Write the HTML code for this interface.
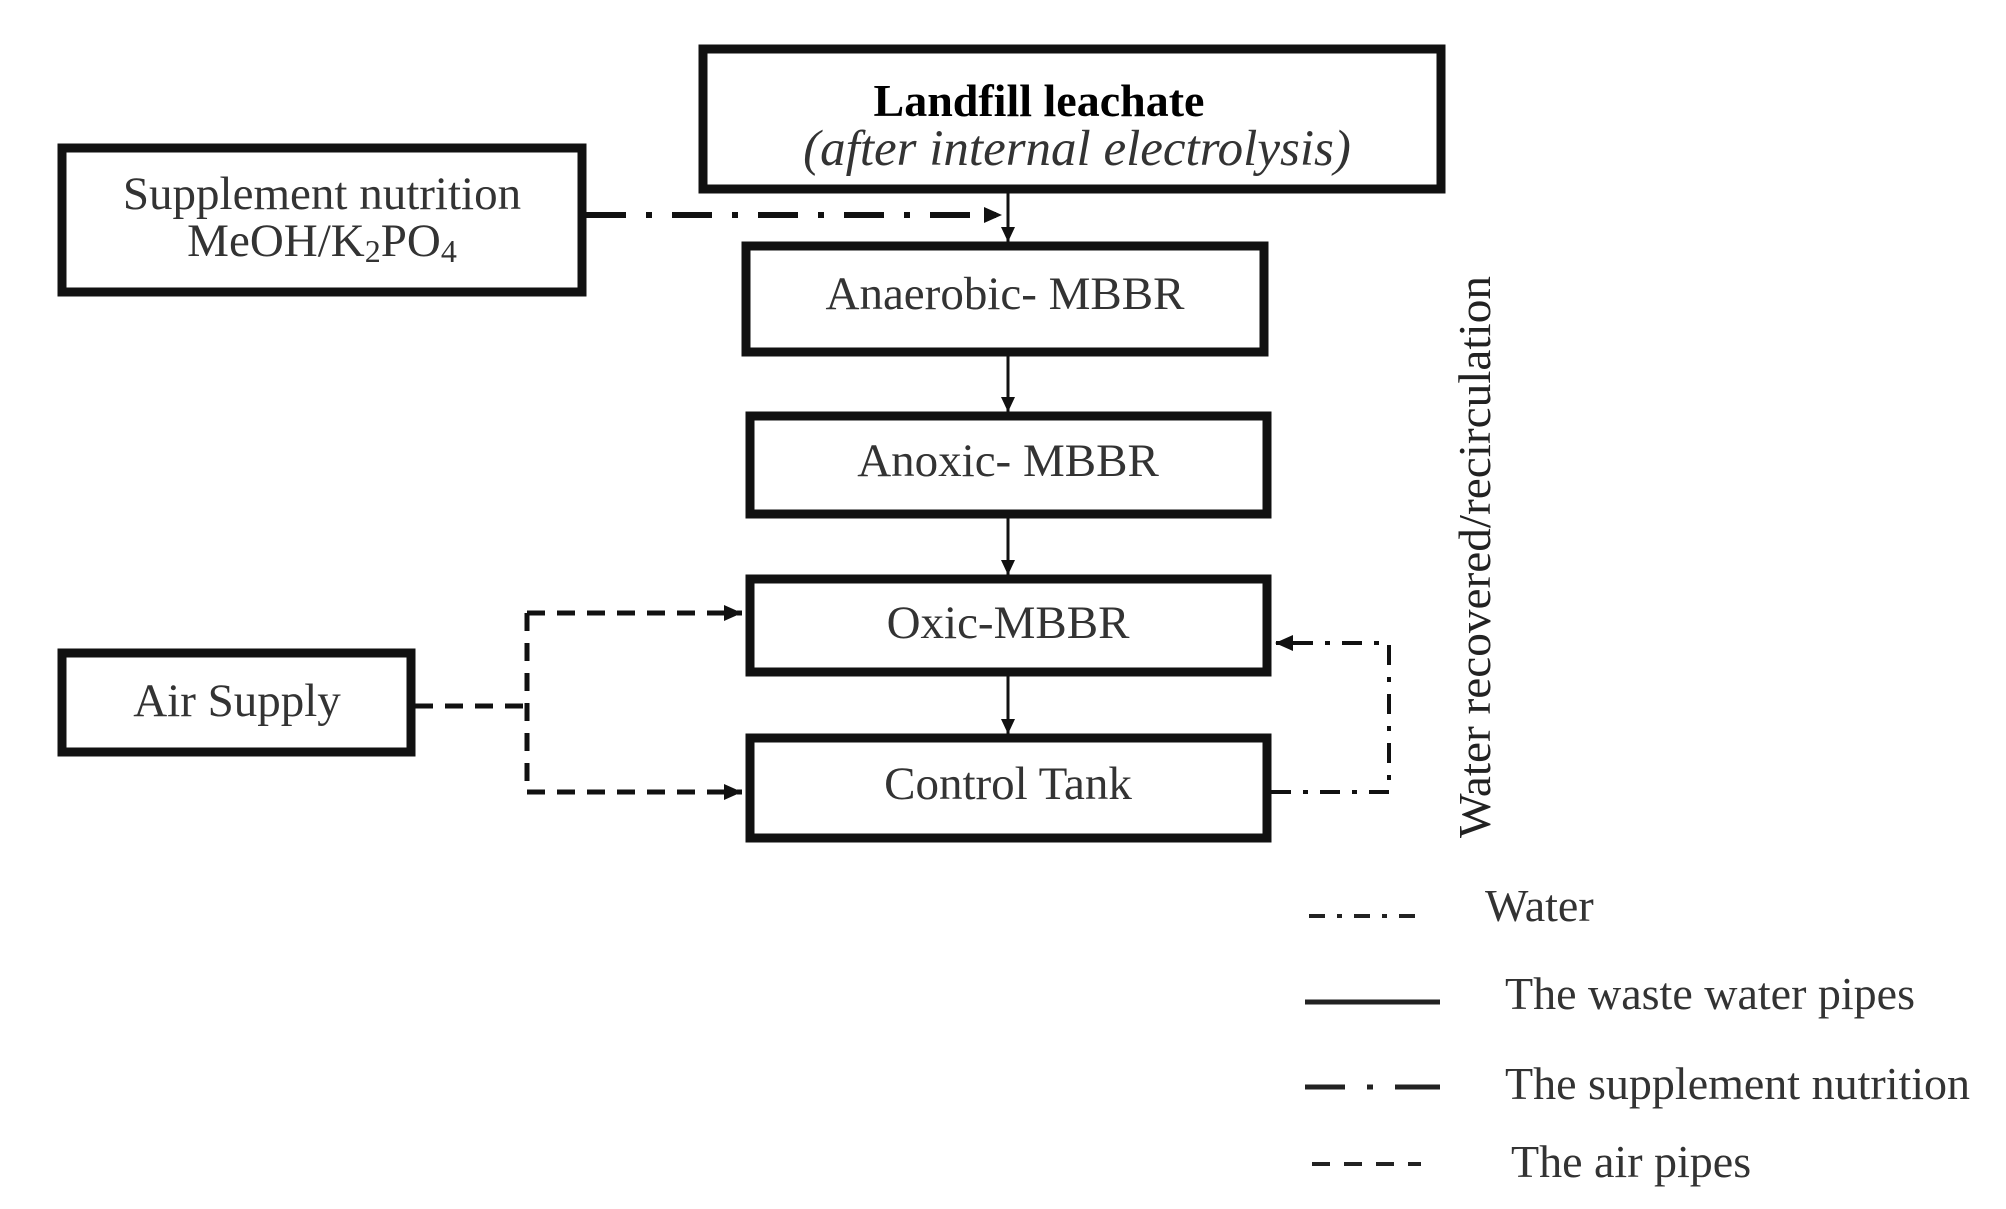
<!DOCTYPE html>
<html><head><meta charset="utf-8"><style>
html,body{margin:0;padding:0;background:#fff;}
svg{display:block;}
text{font-family:"Liberation Serif",serif;}
</style></head><body>
<svg width="2006" height="1209" viewBox="0 0 2006 1209" xmlns="http://www.w3.org/2000/svg">
<defs>
<marker id="ah" markerWidth="16" markerHeight="16" refX="15" refY="8" orient="auto" markerUnits="userSpaceOnUse">
<path d="M0,1 L15,8 L0,15 z" fill="#111"/></marker>
<marker id="ahb" markerWidth="20" markerHeight="20" refX="18" refY="10" orient="auto" markerUnits="userSpaceOnUse">
<path d="M0,2 L18,10 L0,18 z" fill="#111"/></marker>
</defs>
<g fill="#fff" stroke="#111" stroke-width="9">
<rect x="709" y="49" width="738" height="140" transform="translate(-6,0)"/>
<rect x="62" y="148" width="520" height="144"/>
<rect x="746" y="246" width="518" height="106"/>
<rect x="750" y="416" width="517" height="98"/>
<rect x="750" y="579" width="517" height="93"/>
<rect x="750" y="738" width="517" height="100"/>
<rect x="62" y="653" width="349" height="99"/>
</g>
<g fill="#333" font-size="47" text-anchor="middle">
<text x="1039" y="116" font-weight="bold" fill="#000" font-size="46">Landfill leachate</text>
<text x="1077" y="165" font-style="italic" font-size="51">(after internal electrolysis)</text>
<text x="322" y="209">Supplement nutrition</text>
<text x="322" y="256">MeOH/K<tspan font-size="32" dy="6">2</tspan><tspan dy="-6">PO</tspan><tspan font-size="32" dy="6">4</tspan></text>
<text x="1005" y="309">Anaerobic- MBBR</text>
<text x="1008" y="476">Anoxic- MBBR</text>
<text x="1008" y="638">Oxic-MBBR</text>
<text x="1008" y="799">Control Tank</text>
<text x="237" y="716">Air Supply</text>
</g>
<g stroke="#111" stroke-width="3" fill="none">
<line x1="1008" y1="193" x2="1008" y2="242" marker-end="url(#ah)"/>
<line x1="1008" y1="356" x2="1008" y2="412" marker-end="url(#ah)"/>
<line x1="1008" y1="518" x2="1008" y2="575" marker-end="url(#ah)"/>
<line x1="1008" y1="676" x2="1008" y2="734" marker-end="url(#ah)"/>
</g>
<line x1="586" y1="215" x2="1002" y2="215" stroke="#111" stroke-width="6" stroke-dasharray="40,20,6,20" marker-end="url(#ahb)"/>
<g stroke="#111" stroke-width="5" fill="none" stroke-dasharray="18,12">
<polyline points="415,706 527,706"/>
<polyline points="527,613 527,792"/>
<polyline points="527,613 742,613" marker-end="url(#ahb)"/>
<polyline points="527,792 742,792" marker-end="url(#ahb)"/>
</g>
<polyline points="1271,792 1389,792 1389,643 1275,643" stroke="#111" stroke-width="4" fill="none" stroke-dasharray="20,12,5,12" marker-end="url(#ahb)"/>
<text x="0" y="0" transform="translate(1490,838) rotate(-90)" font-size="46" fill="#222" textLength="562" lengthAdjust="spacingAndGlyphs">Water recovered/recirculation</text>
<g stroke="#222" stroke-width="4">
<line x1="1309" y1="916" x2="1421" y2="916" stroke-dasharray="16,12,5,12"/>
<line x1="1305" y1="1002" x2="1440" y2="1002" stroke-width="5"/>
<line x1="1305" y1="1087" x2="1440" y2="1087" stroke-dasharray="40,22,6,22,45" stroke-width="5"/>
<line x1="1312" y1="1164" x2="1421" y2="1164" stroke-dasharray="18,14"/>
</g>
<g fill="#333" font-size="46">
<text x="1485" y="921">Water</text>
<text x="1505" y="1009">The waste water pipes</text>
<text x="1505" y="1099">The supplement nutrition</text>
<text x="1511" y="1177">The air pipes</text>
</g>
</svg>
</body></html>
